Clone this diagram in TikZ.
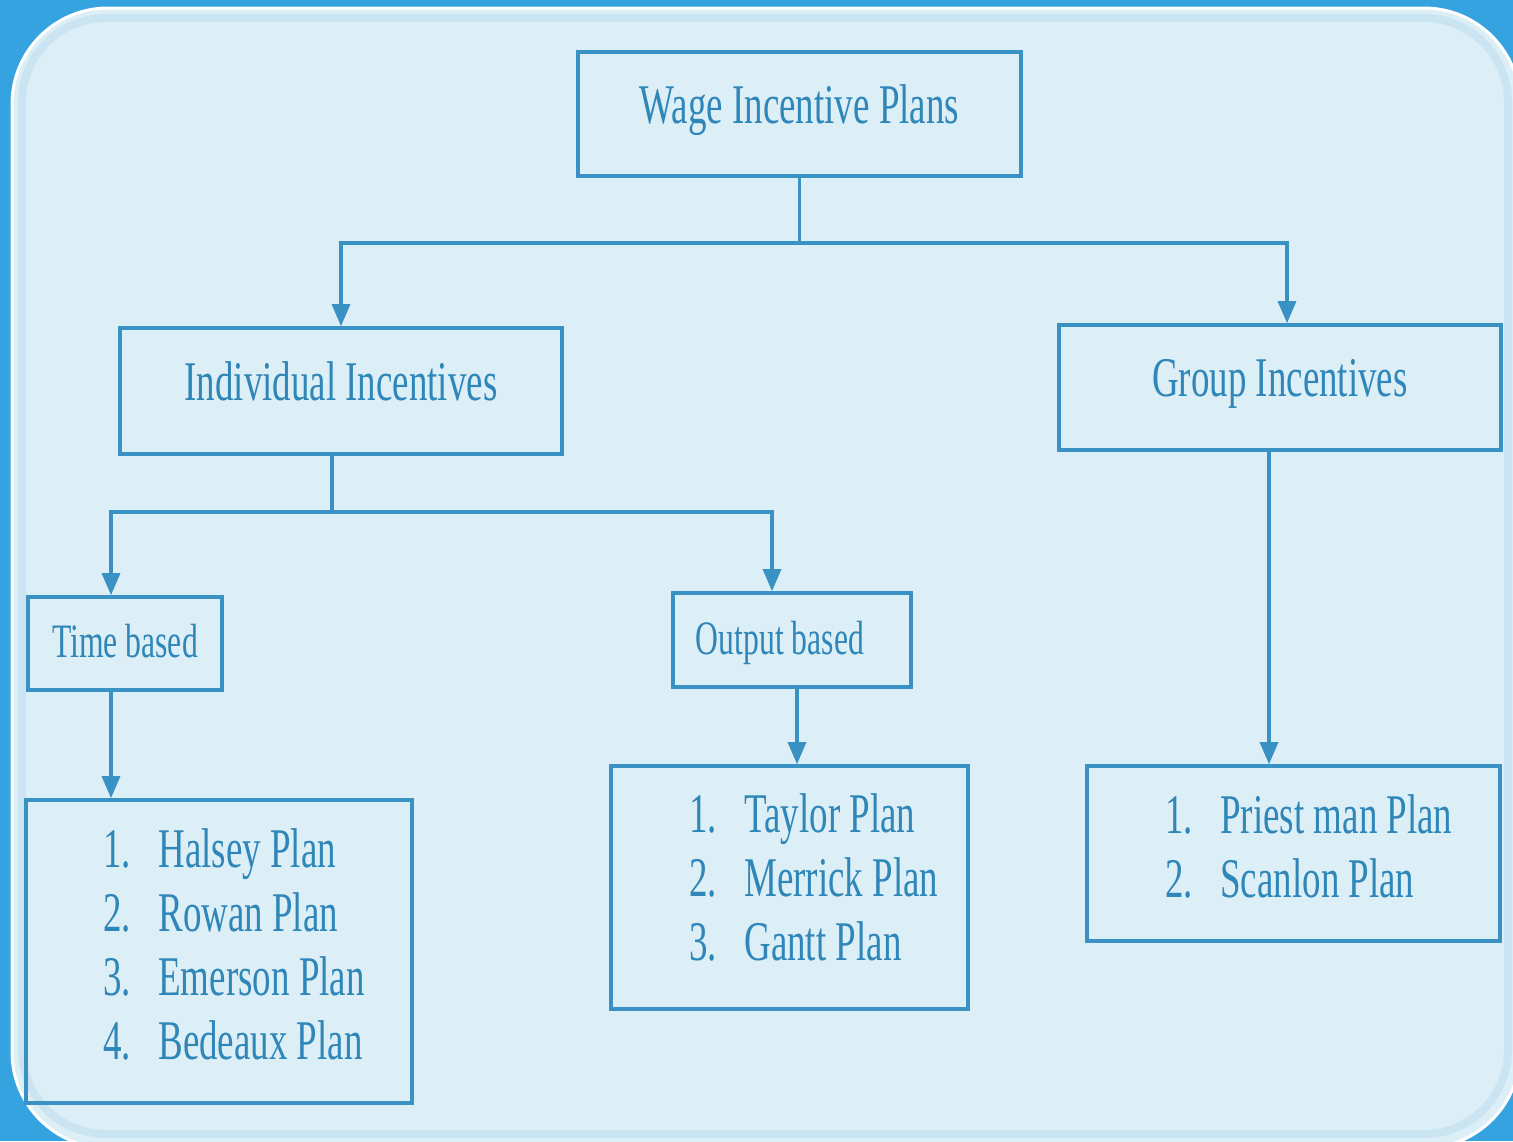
\documentclass[tikz,border=0pt]{standalone}
\usepackage{fontspec}
\setmainfont{Liberation Serif}[FakeStretch=0.66]
\usetikzlibrary{arrows.meta}

\definecolor{outerblue}{RGB}{52,163,224}
\definecolor{panelblue}{RGB}{220,238,246}
\definecolor{edgeblue}{RGB}{184,218,236}
\definecolor{boxblue}{RGB}{58,146,196}
\definecolor{textblue}{RGB}{47,134,184}

\newcommand\planitem[2]{\makebox[27.5pt][l]{#1.}#2}

\begin{document}
\begin{tikzpicture}[x=0.5pt,y=-0.5pt,
  box/.style={draw=boxblue,line width=1.8pt,text=textblue,inner sep=0pt},
  head/.style={box,font=\fontsize{28}{32}\selectfont,text height=20pt,text depth=11pt},
  sub/.style={box,font=\fontsize{24}{28}\selectfont,text height=17pt,text depth=3pt},
  items/.style={text=textblue,align=left,anchor=west,inner sep=0pt,
    font=\fontsize{28}{32}\selectfont},
  link/.style={draw=boxblue,line width=1.6pt},
  arr/.style={link,-{Triangle[width=9pt,length=11pt]}}]

% background panel
\useasboundingbox (0,0) rectangle (1513,1141);
\fill[outerblue] (0,0) rectangle (1513,1141);
\fill[panelblue,draw=white,line width=1.5pt,rounded corners=48pt] (12,8) rectangle (1520,1148);
\draw[edgeblue,opacity=0.45,line width=4pt,rounded corners=42pt] (22,18) rectangle (1508,1134);

% boxes
\node[head,minimum width=221.5pt,minimum height=62pt] (wage) at (799.5,114) {Wage Incentive Plans};
\node[head,minimum width=221pt,minimum height=63pt] (indiv) at (341,391) {Individual Incentives};
\node[head,minimum width=221pt,minimum height=62.5pt] (group) at (1280,387.5) {Group Incentives};
\node[sub,minimum width=97pt,minimum height=46.5pt] (time) at (125,643.5) {Time based};
\node[sub,minimum width=119pt,minimum height=47pt] (output) at (792,640) {Output based\hspace*{12pt}};

\node[box,minimum width=193pt,minimum height=151.5pt] (list1) at (219,951.5) {};
\node[box,minimum width=178.5pt,minimum height=121.5pt] (list2) at (789.5,887.5) {};
\node[box,minimum width=206.5pt,minimum height=87.5pt] (list3) at (1293.5,853.5) {};

% plan lists
\node[items] (timeplans) at (103,944) {\planitem{1}{Halsey Plan}\\ \planitem{2}{Rowan Plan}\\
  \planitem{3}{Emerson Plan}\\ \planitem{4}{Bedeaux Plan}};
\node[items] (outputplans) at (689,877) {\planitem{1}{Taylor Plan}\\ \planitem{2}{Merrick Plan}\\
  \planitem{3}{Gantt Plan}};
\node[items] (groupplans) at (1165,846) {\planitem{1}{Priest man Plan}\\ \planitem{2}{Scanlon Plan}};

% connectors
\coordinate (top) at (800,243);
\coordinate (mid) at (332,512);
\draw[link] (wage.south) -- (wage.south |- top);
\draw[arr] (top) -| (indiv.north);
\draw[arr] (top) -| ([xshift=3.5pt]group.north);
\draw[link] (indiv.south -| mid) -- (mid);
\draw[arr] (mid) -| ([xshift=-7pt]time.north);
\draw[arr] (mid) -| ([xshift=-10pt]output.north);
\draw[arr] ([xshift=-7pt]time.south) -- ([xshift=-7pt]time.south |- list1.north);
\draw[arr] ([xshift=2.5pt]output.south) -- ([xshift=2.5pt]output.south |- list2.north);
\draw[arr] ([xshift=-5.5pt]group.south) -- ([xshift=-5.5pt]group.south |- list3.north);
\end{tikzpicture}
\end{document}
